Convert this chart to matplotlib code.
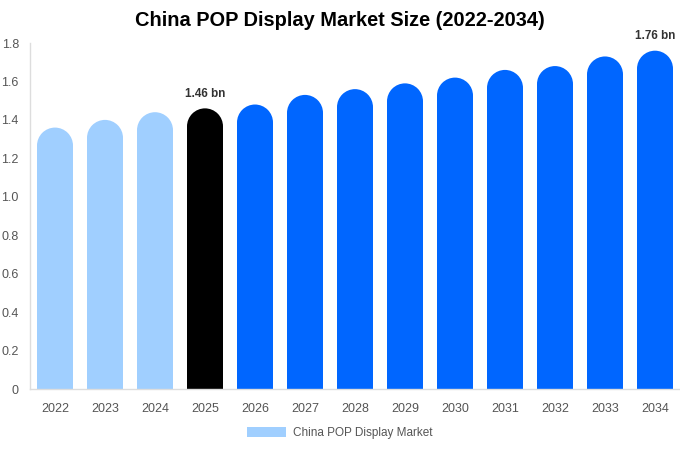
import matplotlib.pyplot as plt
from matplotlib.patches import Rectangle, Ellipse

plt.rcParams['font.family'] = ['Liberation Sans', 'DejaVu Sans']

years = ["2022", "2023", "2024", "2025", "2026", "2027", "2028",
         "2029", "2030", "2031", "2032", "2033", "2034"]
values = [1.36, 1.40, 1.44, 1.46, 1.48, 1.53, 1.56, 1.59, 1.62, 1.66, 1.68, 1.73, 1.76]
colors = ["#A0CFFF"] * 3 + ["#000000"] + ["#0066FF"] * 9
labels = {3: "1.46 bn", 12: "1.76 bn"}
yticks = [0, 0.2, 0.4, 0.6, 0.8, 1.0, 1.2, 1.4, 1.6, 1.8]

fig = plt.figure(figsize=(6.8, 4.5), dpi=100)
ax = fig.add_axes([30 / 680, 61 / 450, 650 / 680, 346 / 450])

ax.set_xlim(-0.5, len(years) - 0.5)
ax.set_ylim(0, 1.8)

bw = 0.72
ry = 18 / 192  # cap radius in data units (approx 18 px)
for i, v in enumerate(values):
    ax.add_patch(Rectangle((i - bw / 2, 0), bw, v - ry, color=colors[i], lw=0))
    ax.add_patch(Ellipse((i, v - ry), bw, 2 * ry, color=colors[i], lw=0))
    if i in labels:
        ax.text(i, v + 0.045, labels[i], ha="center", va="bottom",
                fontsize=8.5, fontweight="bold", color="#333333", clip_on=False)

ax.set_xticks(range(len(years)))
ax.set_xticklabels(years)
ax.set_yticks(yticks)
ax.set_yticklabels(["0"] + [f"{t:.1f}" for t in yticks[1:]])
ax.tick_params(length=0, labelsize=9, colors="#555555")
ax.tick_params(axis="x", pad=10)
ax.tick_params(axis="y", pad=8)

for s in ["top", "right"]:
    ax.spines[s].set_visible(False)
for s in ["left", "bottom"]:
    ax.spines[s].set_color("#DDDDDD")
    ax.spines[s].set_linewidth(1)

fig.text(0.5, 1 - 21 / 450, "China POP Display Market Size (2022-2034)",
         ha="center", va="center", fontsize=14.4, fontweight="bold", color="#000000")

handle = Rectangle((0, 0), 1, 1, color="#A0CFFF", lw=0)
fig.legend([handle], ["China POP Display Market"], loc="center",
           bbox_to_anchor=(0.5, 1 - 433 / 450), frameon=False, fontsize=8.5,
           handlelength=3.3, handleheight=1.0, handletextpad=0.6,
           labelcolor="#555555")

plt.savefig("out.png", dpi=100)
